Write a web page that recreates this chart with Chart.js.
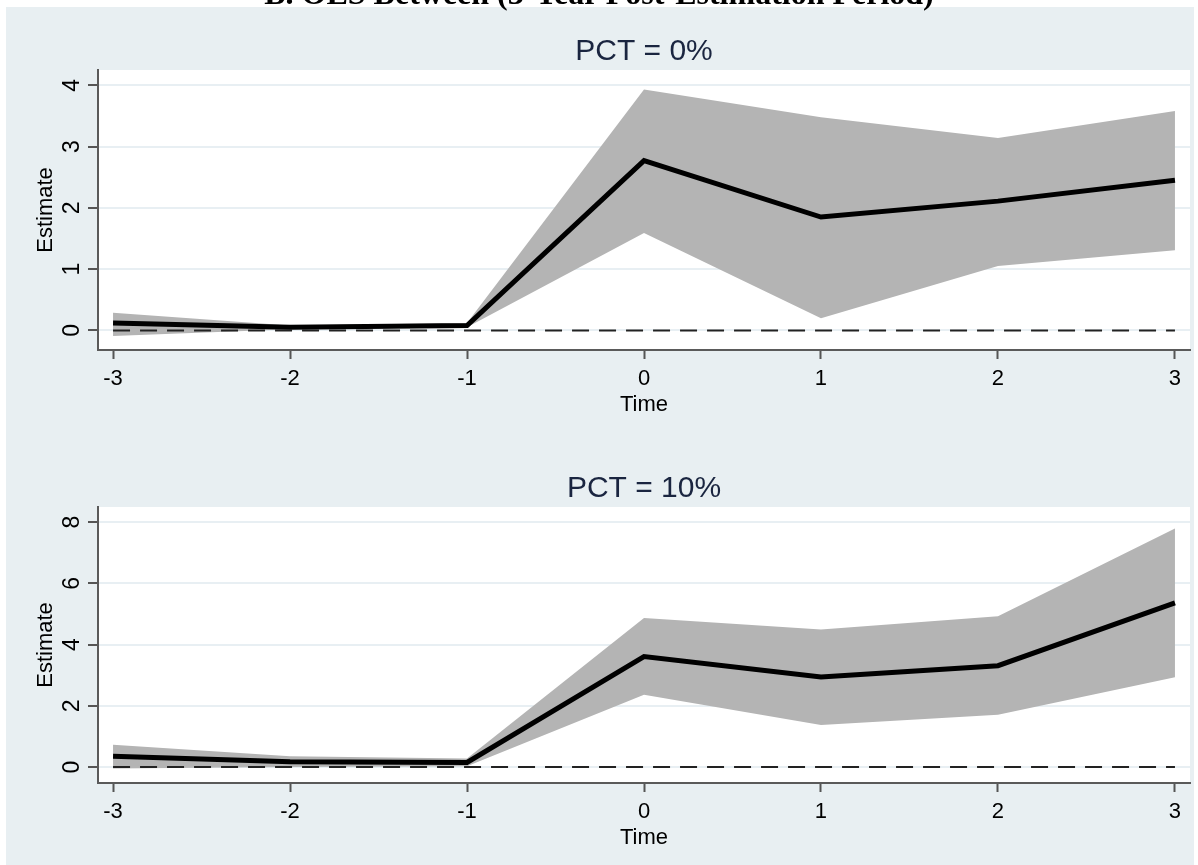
<!DOCTYPE html>
<html>
<head>
<meta charset="utf-8">
<script src="https://cdn.jsdelivr.net/npm/chart.js@4.4.1/dist/chart.umd.min.js"></script>
<style>
  body { margin: 0; background: #ffffff; width: 1198px; height: 865px; overflow: hidden; position: relative; }
  #titulo { position: absolute; left: 0; top: -23px; width: 1198px; text-align: center;
            font: bold 32px "Liberation Serif", "Times New Roman", serif; line-height: 32px; color: #000; z-index: 2; }
  canvas { position: absolute; left: 6px; background: #e8eff2; }
  #panel0 { top: 7px; }
  #panel10 { top: 437px; }
</style>
</head>
<body>
<div id="titulo">B. OLS Between (3-Year Post-Estimation Period)</div>
<canvas id="panel0" width="1188" height="430"></canvas>
<canvas id="panel10" width="1188" height="428"></canvas>
<script>
// periodos relativos al evento
var tiempos = [-3, -2, -1, 0, 1, 2, 3];

// PCT = 0%
var est0   = [0.12, 0.05, 0.08, 2.77, 1.85, 2.11, 2.45];
var sup0   = [0.29, 0.08, 0.12, 3.93, 3.48, 3.14, 3.58];
var inf0   = [-0.09, 0.02, 0.05, 1.59, 0.20, 1.05, 1.31];
var yTicks0 = [0, 1, 2, 3, 4];

// PCT = 10%
var est10  = [0.35, 0.17, 0.15, 3.61, 2.94, 3.31, 5.36];
var sup10  = [0.73, 0.35, 0.28, 4.87, 4.49, 4.92, 7.79];
var inf10  = [-0.05, 0.00, 0.03, 2.36, 1.37, 1.71, 2.93];
var yTicks10 = [0, 2, 4, 6, 8];

var xTicks = [-3, -2, -1, 0, 1, 2, 3];
var linea0 = [0, 0, 0, 0, 0, 0, 0];

function puntos(valores) {
    return tiempos.map(function (t, i) { return { x: t, y: valores[i] }; });
}

// fondo blanco del area de trazado
var fondoBlanco = {
    id: 'fondoBlanco',
    beforeDraw: function (chart) {
        var a = chart.chartArea;
        chart.ctx.save();
        chart.ctx.fillStyle = '#ffffff';
        chart.ctx.fillRect(a.left, a.top, a.right - a.left, a.bottom - a.top);
        chart.ctx.restore();
    }
};

// etiquetas del eje y giradas como en Stata
var etiquetasY = {
    id: 'etiquetasY',
    afterDraw: function (chart) {
        var ctx = chart.ctx;
        var y = chart.scales.y;
        ctx.save();
        ctx.fillStyle = '#000000';
        ctx.font = '23px "Liberation Sans", Arial, sans-serif';
        ctx.textAlign = 'center';
        ctx.textBaseline = 'middle';
        y.ticks.forEach(function (t) {
            ctx.save();
            ctx.translate(67, y.getPixelForValue(t.value));
            ctx.rotate(-Math.PI / 2);
            ctx.fillText(String(t.value), 0, 0);
            ctx.restore();
        });
        ctx.restore();
    }
};

function crearPanel(id, est, sup, inf, yTicks, yMin, yMax, titulo, padTitulo, altoX, padTiempo) {
    var ctx = document.getElementById(id).getContext('2d');
    return new Chart(ctx, {
        type: 'line',
        data: {
            datasets: [
                {
                    data: puntos(sup),
                    borderWidth: 0,
                    borderColor: 'rgba(0,0,0,0)',
                    backgroundColor: '#b4b4b4',
                    fill: '+1',
                    pointRadius: 0,
                    order: 3
                },
                {
                    data: puntos(inf),
                    borderWidth: 0,
                    borderColor: 'rgba(0,0,0,0)',
                    pointRadius: 0,
                    fill: false,
                    order: 3
                },
                {
                    data: puntos(linea0),
                    borderColor: '#222222',
                    borderWidth: 2,
                    borderDash: [17, 10],
                    pointRadius: 0,
                    fill: false,
                    order: 2
                },
                {
                    data: puntos(est),
                    borderColor: '#000000',
                    borderWidth: 5,
                    pointRadius: 0,
                    fill: false,
                    tension: 0,
                    order: 1
                }
            ]
        },
        options: {
            responsive: false,
            animation: false,
            devicePixelRatio: 1,
            layout: { padding: { left: 0, right: 4, top: 0, bottom: 0 } },
            plugins: {
                legend: { display: false },
                tooltip: { enabled: false },
                title: {
                    display: true,
                    fullSize: false,
                    text: titulo,
                    color: '#1a2540',
                    font: { family: '"Liberation Sans", Arial, sans-serif', size: 30, weight: 'normal', lineHeight: 1.2 },
                    padding: { top: padTitulo, bottom: 0 }
                }
            },
            scales: {
                x: {
                    type: 'linear',
                    min: -3.085,
                    max: 3.085,
                    afterBuildTicks: function (s) { s.ticks = xTicks.map(function (v) { return { value: v }; }); },
                    afterFit: function (s) { s.height = altoX; },
                    grid: { drawOnChartArea: false, drawTicks: true, tickLength: 9, tickColor: '#555555', tickWidth: 2 },
                    border: { display: true, color: '#5a5a5a', width: 2 },
                    ticks: {
                        color: '#000000',
                        padding: 7,
                        maxRotation: 0,
                        font: { family: '"Liberation Sans", Arial, sans-serif', size: 22 }
                    },
                    title: {
                        display: true,
                        text: 'Time',
                        color: '#000000',
                        font: { family: '"Liberation Sans", Arial, sans-serif', size: 22, lineHeight: 1.2 },
                        padding: { top: 0, bottom: padTiempo }
                    }
                },
                y: {
                    type: 'linear',
                    min: yMin,
                    max: yMax,
                    afterBuildTicks: function (s) { s.ticks = yTicks.map(function (v) { return { value: v }; }); },
                    afterFit: function (s) { s.width = 92; },
                    grid: { color: '#e8eff3', lineWidth: 2, drawTicks: true, tickLength: 10, tickColor: '#555555', tickWidth: 2 },
                    border: { display: true, color: '#5a5a5a', width: 2 },
                    ticks: { display: false },
                    title: {
                        display: true,
                        text: 'Estimate',
                        color: '#000000',
                        font: { family: '"Liberation Sans", Arial, sans-serif', size: 22, lineHeight: 1.2 },
                        padding: { top: 27, bottom: 0 }
                    }
                }
            }
        },
        plugins: [fondoBlanco, etiquetasY]
    });
}

crearPanel('panel0', est0, sup0, inf0, yTicks0, -0.32, 4.25, 'PCT = 0%', 27, 87, 19);
crearPanel('panel10', est10, sup10, inf10, yTicks10, -0.52, 8.49, 'PCT = 10%', 34, 82, 14);
</script>
</body>
</html>
